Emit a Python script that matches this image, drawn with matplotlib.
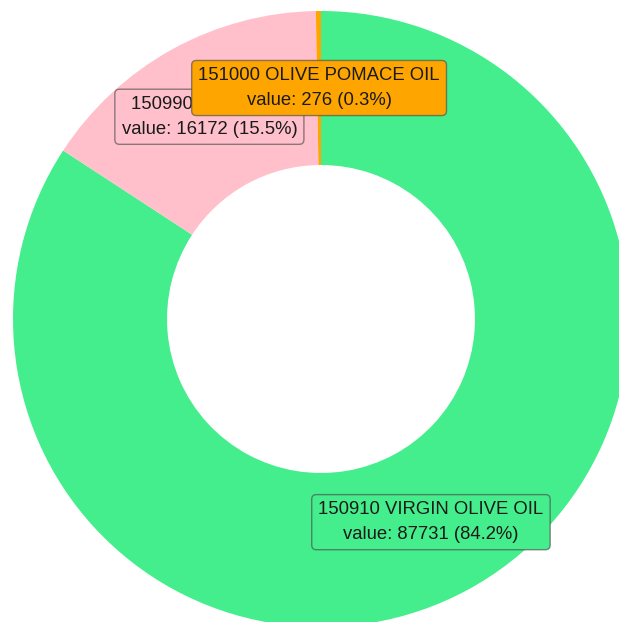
import matplotlib
matplotlib.use("Agg")
import matplotlib.pyplot as plt
import numpy as np

codes = ["150910", "150990", "151000"]
names = ["VIRGIN OLIVE OIL", "OLIVE OIL", "OLIVE POMACE OIL"]
values = [87731, 16172, 276]
colors = ["#44ee8c", "#ffc0cb", "#ffa500"]

plt.rcParams['font.family'] = ['Liberation Sans', 'DejaVu Sans']

W, H = 619, 622
fig = plt.figure(figsize=(W / 100, H / 100), dpi=100)
ax = fig.add_axes([0, 0, 1, 1])

R = 308
cx, cy = 321, H - 319
wedges, _ = ax.pie(values, colors=colors, startangle=90, counterclock=False,
                   radius=R, center=(cx, cy), wedgeprops=dict(width=R * 0.5, linewidth=0))
ax.set_xlim(0, W)
ax.set_ylim(0, H)
ax.set_aspect('equal')
ax.axis('off')

total = sum(values)
for w, code, name, v, c in zip(wedges, codes, names, values, colors):
    mid = np.deg2rad((w.theta1 + w.theta2) / 2)
    x = cx + 0.75 * R * np.cos(mid)
    y = cy + 0.75 * R * np.sin(mid)
    txt = f"{code} {name}\nvalue: {v} ({100 * v / total:.1f}%)"
    ax.text(x, y, txt, ha='center', va='center', fontsize=13.3, color='#1a1a1a',
            linespacing=1.6, multialignment='center',
            bbox=dict(boxstyle='round,pad=0.36,rounding_size=0.25', facecolor=c,
                      edgecolor=(0.3, 0.3, 0.3, 0.65), linewidth=1.0))

fig.savefig("out.png", dpi=100)
